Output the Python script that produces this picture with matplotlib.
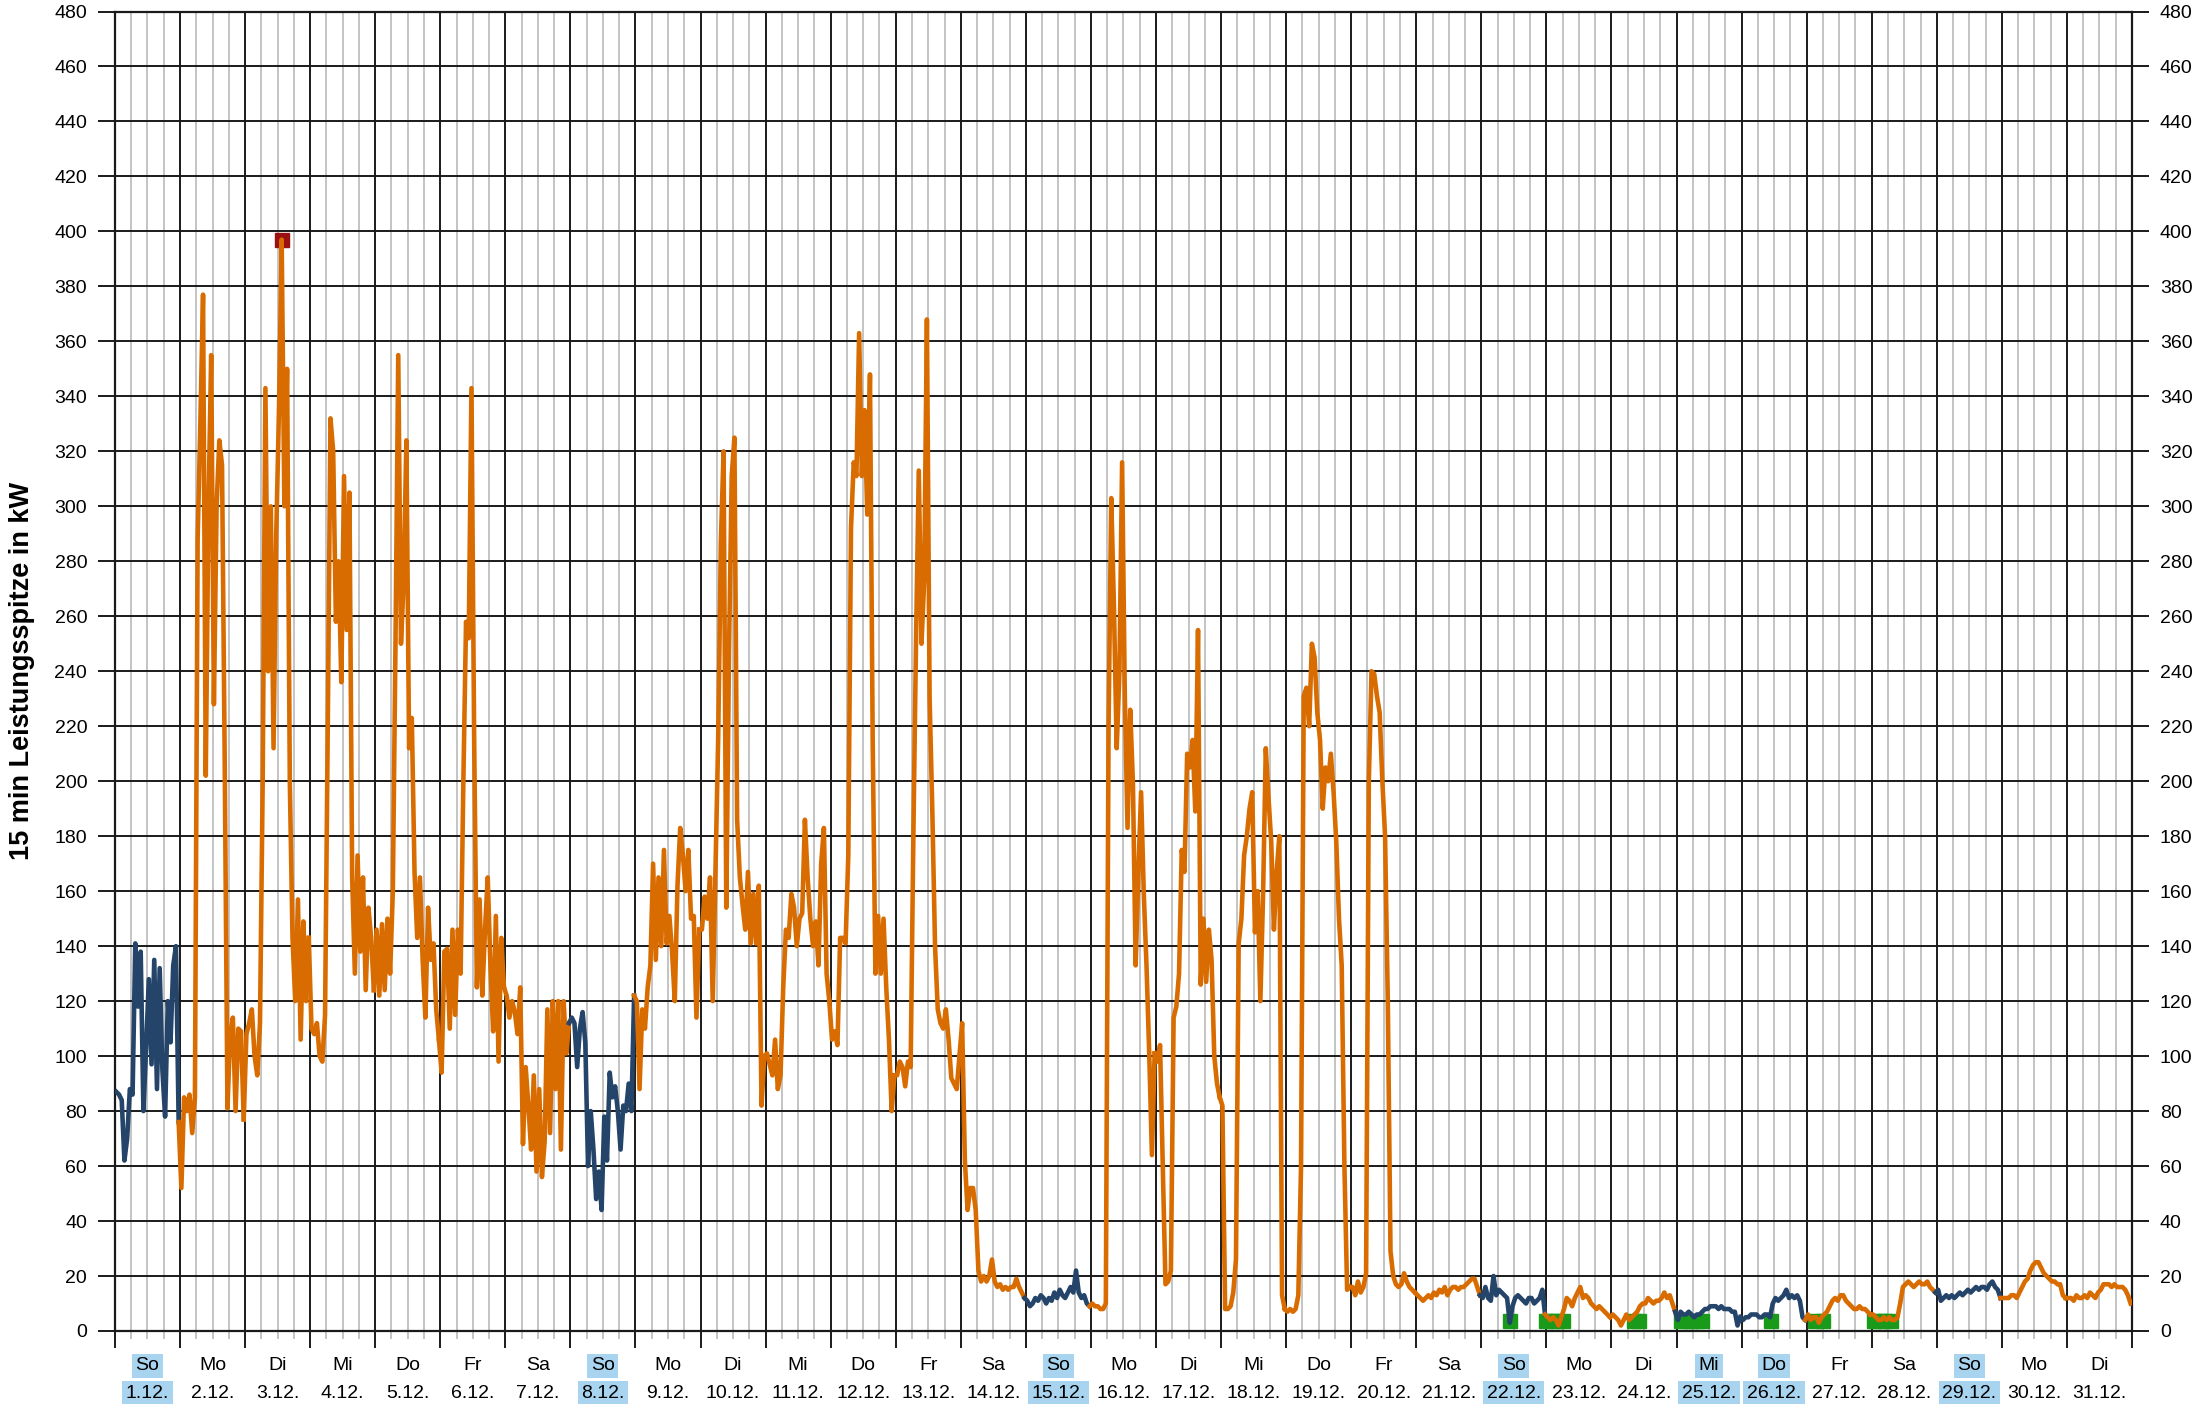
import numpy as np
import matplotlib.pyplot as plt
from matplotlib.ticker import MultipleLocator

plt.rcParams['font.family'] = ['Liberation Sans', 'DejaVu Sans']

# weekday / date labels for December
day_names = ["So", "Mo", "Di", "Mi", "Do", "Fr", "Sa",
             "So", "Mo", "Di", "Mi", "Do", "Fr", "Sa",
             "So", "Mo", "Di", "Mi", "Do", "Fr", "Sa",
             "So", "Mo", "Di", "Mi", "Do", "Fr", "Sa",
             "So", "Mo", "Di"]
dates = ["1.12.", "2.12.", "3.12.", "4.12.", "5.12.", "6.12.", "7.12.",
         "8.12.", "9.12.", "10.12.", "11.12.", "12.12.", "13.12.", "14.12.",
         "15.12.", "16.12.", "17.12.", "18.12.", "19.12.", "20.12.", "21.12.",
         "22.12.", "23.12.", "24.12.", "25.12.", "26.12.", "27.12.", "28.12.",
         "29.12.", "30.12.", "31.12."]
# sundays and public holidays (highlighted, drawn blue)
holidays = [1, 8, 15, 22, 25, 26, 29]

# hourly peak values in kW, one row per day
week1 = [
    [87, 86, 84, 62, 70, 88, 86, 141, 118, 138, 80, 103, 128, 97, 135, 88, 132, 95, 78, 120, 105, 133, 140, 76],
    [52, 85, 80, 86, 72, 85, 288, 330, 377, 202, 300, 355, 228, 300, 324, 315, 206, 81, 108, 114, 80, 110, 109, 77],
    [108, 112, 117, 100, 93, 112, 200, 343, 240, 300, 212, 290, 335, 397, 300, 350, 200, 143, 120, 157, 106, 149, 120, 143],
    [110, 108, 112, 100, 98, 115, 220, 332, 320, 258, 280, 236, 311, 255, 305, 165, 130, 173, 138, 165, 124, 154, 143, 124],
    [146, 122, 148, 124, 150, 130, 160, 252, 355, 250, 273, 324, 212, 223, 167, 143, 165, 135, 114, 154, 135, 141, 117, 106],
    [94, 138, 139, 110, 146, 115, 146, 130, 199, 258, 252, 343, 215, 125, 157, 122, 146, 165, 133, 109, 151, 98, 143, 125],
    [122, 114, 120, 116, 108, 125, 68, 96, 82, 66, 93, 58, 88, 56, 69, 117, 72, 120, 88, 120, 66, 120, 101, 112],
]
week2 = [
    [114, 112, 96, 110, 116, 105, 60, 80, 66, 48, 58, 44, 78, 62, 94, 85, 89, 80, 66, 82, 80, 90, 80, 122],
    [120, 88, 117, 110, 125, 133, 170, 135, 165, 140, 175, 141, 151, 138, 120, 162, 183, 173, 160, 175, 150, 151, 114, 146],
    [146, 158, 150, 165, 120, 167, 215, 287, 320, 154, 247, 311, 325, 186, 165, 155, 146, 167, 141, 159, 141, 162, 82, 100],
    [101, 97, 93, 106, 88, 93, 125, 146, 143, 159, 154, 140, 150, 152, 186, 165, 150, 140, 149, 133, 170, 183, 130, 120],
    [106, 109, 104, 143, 143, 141, 173, 292, 316, 311, 363, 311, 335, 297, 348, 215, 130, 151, 130, 150, 125, 106, 80, 93],
    [93, 98, 96, 89, 98, 96, 180, 252, 313, 250, 273, 368, 230, 189, 140, 117, 112, 110, 117, 106, 92, 90, 88, 100],
    [112, 62, 44, 52, 52, 44, 22, 18, 20, 18, 20, 26, 18, 16, 17, 15, 16, 15, 16, 16, 19, 16, 14, 12],
]
week3 = [
    [11, 9, 10, 12, 11, 13, 12, 10, 12, 11, 14, 12, 15, 13, 12, 14, 16, 14, 22, 14, 12, 13, 10, 9],
    [10, 9, 9, 8, 8, 10, 220, 303, 263, 212, 239, 316, 231, 183, 226, 199, 133, 167, 196, 159, 133, 101, 64, 101],
    [98, 104, 60, 17, 18, 22, 114, 118, 130, 175, 167, 210, 205, 215, 189, 255, 126, 150, 127, 146, 135, 100, 90, 85],
    [82, 8, 8, 9, 14, 26, 141, 150, 173, 180, 190, 196, 145, 160, 120, 159, 212, 194, 178, 146, 167, 180, 13, 8],
    [7, 8, 7, 8, 13, 60, 231, 234, 220, 250, 245, 225, 215, 190, 205, 200, 210, 196, 178, 150, 133, 60, 15, 16],
    [16, 13, 18, 14, 16, 21, 200, 240, 239, 231, 225, 200, 180, 120, 29, 20, 17, 16, 17, 21, 18, 16, 15, 14],
    [13, 12, 11, 12, 13, 12, 14, 13, 15, 14, 16, 13, 15, 16, 16, 15, 16, 16, 17, 18, 19, 19, 16, 13],
]
week4 = [
    [12, 16, 12, 11, 20, 13, 15, 14, 13, 12, 3, 9, 12, 13, 12, 11, 10, 12, 12, 10, 11, 12, 15, 6],
    [5, 4, 5, 4, 2, 5, 8, 12, 11, 9, 12, 14, 16, 12, 13, 12, 10, 9, 8, 9, 8, 7, 6, 5],
    [6, 5, 4, 2, 4, 6, 4, 5, 6, 7, 9, 10, 10, 12, 11, 10, 11, 11, 12, 14, 12, 13, 10, 7],
    [4, 7, 6, 6, 7, 6, 5, 6, 6, 7, 8, 8, 9, 9, 9, 8, 9, 8, 8, 8, 7, 7, 2, 5],
    [4, 5, 5, 6, 6, 6, 5, 5, 6, 6, 5, 10, 12, 11, 12, 13, 15, 12, 13, 12, 13, 11, 5, 4],
    [6, 4, 5, 5, 3, 5, 6, 7, 9, 11, 12, 11, 13, 13, 11, 10, 9, 8, 8, 9, 8, 8, 7, 6],
    [6, 5, 4, 4, 5, 4, 5, 4, 4, 5, 10, 16, 17, 18, 17, 16, 17, 18, 17, 17, 18, 16, 15, 14],
]
week5 = [
    [15, 11, 12, 13, 12, 13, 12, 13, 14, 13, 14, 15, 14, 15, 16, 15, 16, 16, 15, 17, 18, 16, 15, 12],
    [12, 12, 12, 13, 13, 12, 14, 16, 18, 19, 22, 24, 25, 25, 23, 21, 20, 19, 18, 18, 17, 17, 13, 12],
    [12, 12, 11, 13, 12, 12, 13, 12, 14, 13, 12, 14, 15, 17, 17, 17, 16, 17, 16, 16, 16, 15, 13, 10],
]

# low-load markers (date, hour, kW)
green_day = [22, 23, 23, 23, 23, 24, 24, 25, 25, 25, 25, 25, 26, 27, 27, 28, 28, 28, 28]
green_hour = [10.5, 0, 2, 4, 6, 8.5, 10, 1.5, 3.5, 5.5, 7.5, 9.5, 11, 3, 6, 1, 3, 5, 7]
green_kw = [3.5] * len(green_day)

days = week1 + week2 + week3 + week4 + week5

orange = "#d96c00"
blue = "#24446a"
hl = "#a8d4f0"

fig = plt.figure(figsize=(22.02, 14.04), dpi=100)
ax = fig.add_axes([0.0522, 0.052, 0.9160, 0.9398])

hours = (np.arange(24) + 0.5) / 24
prev = None
for i, vals in enumerate(days):
    xs = i + hours
    ys = np.array(vals, dtype=float)
    if prev is not None:
        xs = np.concatenate([[prev[0]], xs])
        ys = np.concatenate([[prev[1]], ys])
    col = blue if (i + 1) in holidays else orange
    ax.plot(xs, ys, color=col, lw=3.3, zorder=3)
    prev = (i + hours[-1], vals[-1])

# maximum marker
flat = np.array(days, dtype=float).ravel()
k = int(np.argmax(flat))
ax.plot(k // 24 + hours[k % 24], flat[k], marker='s', ms=10, color="#9b1111", zorder=2)

gx = np.array(green_day) - 1 + np.array(green_hour) / 24
ax.plot(gx, green_kw, 's', ms=10, color="#1a9a1a", zorder=2)

ax.set_xlim(0, 31)
ax.set_ylim(0, 480)
ax.xaxis.set_major_locator(MultipleLocator(1))
ax.xaxis.set_minor_locator(MultipleLocator(0.25))
ax.yaxis.set_major_locator(MultipleLocator(20))
ax.set_axisbelow(True)
ax.grid(which='minor', axis='x', color='#c4c4c4', lw=1.4)
ax.grid(which='major', axis='both', color='#1a1a1a', lw=1.4)

ax.tick_params(axis='x', which='major', length=12, width=1.4, color='#1a1a1a', labelbottom=False)
ax.tick_params(axis='x', which='minor', length=6, width=1.4, color='#c4c4c4')
ax.tick_params(axis='y', length=12, width=1.4, color='#1a1a1a', left=True, right=True,
               labelleft=True, labelright=True, labelsize=14, pad=8)
for s in ax.spines.values():
    s.set_color('#1a1a1a')
    s.set_linewidth(1.6)

trans = ax.get_xaxis_transform()
for i in range(31):
    box = dict(facecolor=hl, edgecolor='none', pad=2.5) if (i + 1) in holidays else None
    ax.text(i + 0.5, -0.0265, day_names[i], transform=trans, ha='center', va='center',
            fontsize=14, bbox=box)
    ax.text(i + 0.5, -0.047, dates[i], transform=trans, ha='center', va='center',
            fontsize=14, bbox=box)

fig.text(0.010, 0.522, "15 min Leistungsspitze in kW", rotation=90, fontsize=19.5,
         fontweight='bold', va='center', ha='center')

fig.savefig("out.png", dpi=100)
